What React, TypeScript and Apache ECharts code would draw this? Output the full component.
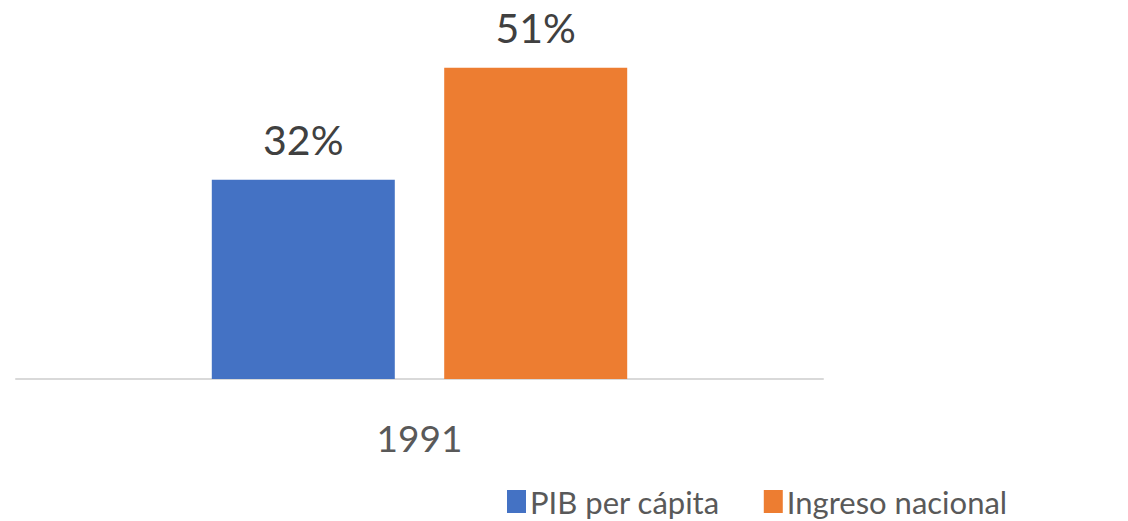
import React, { useEffect, useRef } from "react";
import * as echarts from "echarts";

const categories = ["1991"];
const seriesNames = ["PIB per cápita", "Ingreso nacional"];
const pibValues = [32.4];
const ingresoValues = [50.6];
const colors = ["#4472C4", "#ED7D31"];

export default function App() {
  const ref = useRef<HTMLDivElement>(null);
  useEffect(() => {
    if (!ref.current) return;
    const chart = echarts.init(ref.current, null, { renderer: "svg" });
    const font = "Lato, 'Open Sans', sans-serif";
    chart.setOption({
      animation: false,
      grid: { left: 16, right: 305, top: 10, bottom: 142, containLabel: false },
      legend: {
        left: 502,
        top: 481,
        itemWidth: 19,
        itemHeight: 23,
        itemGap: 44,
        icon: "rect",
        textStyle: { fontFamily: font, fontSize: 31, color: "#595959", padding: [0, 0, 0, -1] },
        data: seriesNames,
      },
      xAxis: {
        type: "category",
        data: categories,
        axisLine: { lineStyle: { color: "#D9D9D9", width: 2 } },
        axisTick: { show: false },
        axisLabel: { fontFamily: font, fontSize: 37, color: "#595959", margin: 40 },
      },
      yAxis: {
        type: "value",
        min: 0,
        max: 60,
        show: false,
        splitLine: { show: false },
      },
      series: [
        {
          name: seriesNames[0],
          type: "bar",
          data: pibValues,
          barWidth: 183,
          barGap: "27%",
          itemStyle: { color: colors[0] },
          label: {
            show: true,
            position: "top",
            distance: 20,
            fontFamily: font,
            fontSize: 41,
            color: "#404040",
            formatter: (p: any) => Math.round(p.value) + "%",
          },
        },
        {
          name: seriesNames[1],
          type: "bar",
          data: ingresoValues,
          barWidth: 183,
          itemStyle: { color: colors[1] },
          label: {
            show: true,
            position: "top",
            distance: 20,
            fontFamily: font,
            fontSize: 41,
            color: "#404040",
            formatter: (p: any) => Math.round(p.value) + "%",
          },
        },
      ],
    });
    return () => chart.dispose();
  }, []);
  return <div ref={ref} style={{ width: 1128, height: 521, position: "absolute", left: 0, top: 0 }} />;
}
